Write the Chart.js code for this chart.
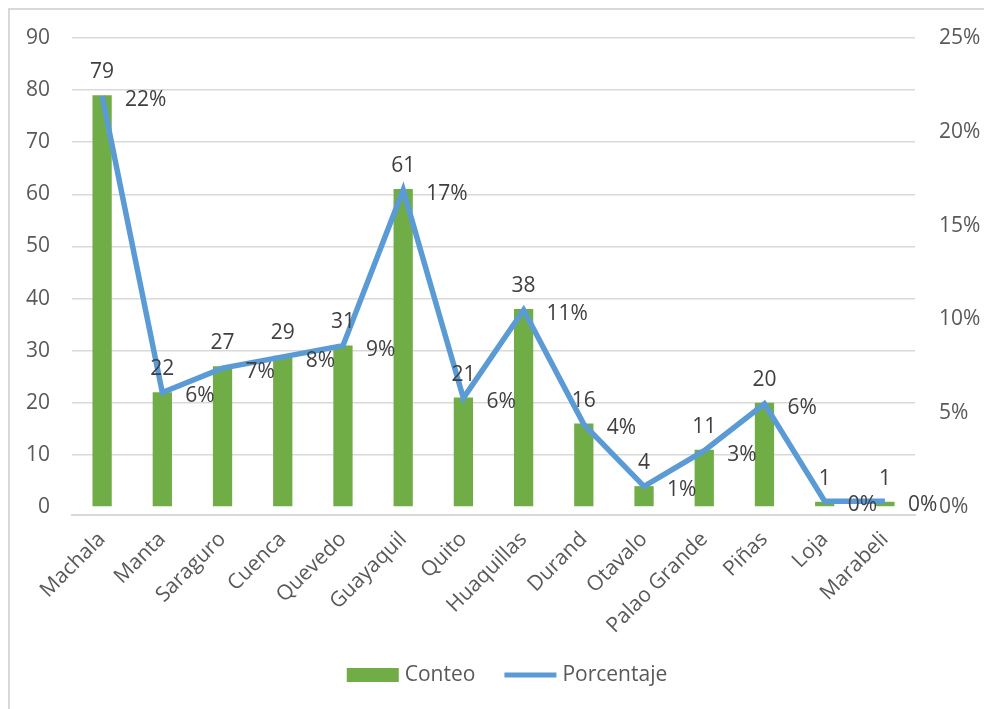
<!DOCTYPE html>
<html>
<head>
<meta charset="utf-8">
<script src="https://cdn.jsdelivr.net/npm/chart.js@4"></script>
<style>
  html, body { margin: 0; padding: 0; background: #fff; }
  #wrap { position: absolute; left: 0; top: 0; width: 984px; height: 709px; }
</style>
</head>
<body>
<div id="wrap"><canvas id="grafico"></canvas></div>
<script>
// Datos
const ciudades = ['Machala', 'Manta', 'Saraguro', 'Cuenca', 'Quevedo', 'Guayaquil', 'Quito',
    'Huaquillas', 'Durand', 'Otavalo', 'Palao Grande', 'Piñas', 'Loja', 'Marabeli'];
const conteo = [79, 22, 27, 29, 31, 61, 21, 38, 16, 4, 11, 20, 1, 1];
const porcentaje = [21.9, 6.1, 7.4, 8.0, 8.6, 16.9, 5.8, 10.5, 4.4, 1.1, 3.0, 5.5, 0.3, 0.3];
const ticksConteo = [0, 10, 20, 30, 40, 50, 60, 70, 80, 90];
const ticksPorcentaje = [0, 5, 10, 15, 20, 25];

const fuente = '"Open Sans", "DejaVu Sans", sans-serif';
const tamFuente = 21;
const verde = '#70AD47';
const azul = '#5B9BD5';

// Marco gris del gráfico (solo se ven borde superior e izquierdo)
const marco = {
    id: 'marco',
    beforeDraw(chart) {
        const ctx = chart.ctx;
        ctx.save();
        ctx.fillStyle = '#ffffff';
        ctx.fillRect(0, 0, chart.width, chart.height);
        ctx.strokeStyle = '#d9d9d9';
        ctx.lineWidth = 2;
        ctx.strokeRect(9, 9, chart.width + 20, chart.height + 20);
        ctx.restore();
    }
};

// Etiquetas de datos: conteo sobre las barras, porcentaje a la derecha de la línea
const etiquetas = {
    id: 'etiquetas',
    afterDatasetsDraw(chart) {
        const ctx = chart.ctx;
        ctx.save();
        ctx.font = tamFuente + 'px ' + fuente;
        ctx.fillStyle = '#404040';
        ctx.textBaseline = 'middle';

        const barras = chart.getDatasetMeta(0);
        ctx.textAlign = 'center';
        barras.data.forEach((bar, i) => {
            ctx.fillText(String(conteo[i]), bar.x, bar.y - 23);
        });

        const linea = chart.getDatasetMeta(1);
        ctx.textAlign = 'left';
        linea.data.forEach((pt, i) => {
            ctx.fillText(Math.round(porcentaje[i]) + '%', pt.x + 23, pt.y + 4);
        });
        ctx.restore();
    }
};

// Leyenda propia debajo del gráfico
const leyenda = {
    id: 'leyenda',
    afterDraw(chart) {
        const ctx = chart.ctx;
        ctx.save();
        ctx.font = tamFuente + 'px ' + fuente;
        ctx.textBaseline = 'middle';
        ctx.textAlign = 'left';
        const muestra = 52, hueco = 6, separacion = 29;
        const items = chart.data.datasets.map(ds => ({
            texto: ds.label,
            tipo: ds.type,
            color: ds.type === 'line' ? ds.borderColor : ds.backgroundColor,
            ancho: muestra + hueco + ctx.measureText(ds.label).width
        }));
        const total = items.reduce((s, it) => s + it.ancho, 0) + separacion * (items.length - 1);
        let x = (chart.width - total) / 2 + 15;
        const y = 675;
        items.forEach(it => {
            if (it.tipo === 'line') {
                ctx.strokeStyle = it.color;
                ctx.lineWidth = 5;
                ctx.beginPath();
                ctx.moveTo(x, y);
                ctx.lineTo(x + muestra, y);
                ctx.stroke();
            } else {
                ctx.fillStyle = it.color;
                ctx.fillRect(x, y - 7, muestra, 14);
            }
            ctx.fillStyle = '#595959';
            ctx.fillText(it.texto, x + muestra + hueco, y);
            x += it.ancho + separacion;
        });
        ctx.restore();
    }
};

const ctx = document.getElementById('grafico').getContext('2d');
const grafico = new Chart(ctx, {
    type: 'bar',
    data: {
        labels: ciudades,
        datasets: [{
            type: 'bar',
            label: 'Conteo',
            data: conteo,
            backgroundColor: verde,
            borderWidth: 0,
            barPercentage: 0.32,
            categoryPercentage: 1,
            yAxisID: 'y',
            order: 1
        }, {
            type: 'line',
            label: 'Porcentaje',
            data: porcentaje,
            borderColor: azul,
            backgroundColor: azul,
            borderWidth: 5.5,
            pointRadius: 0,
            pointHoverRadius: 0,
            tension: 0,
            fill: false,
            yAxisID: 'y2',
            order: 0
        }]
    },
    options: {
        responsive: true,
        maintainAspectRatio: false,
        animation: false,
        devicePixelRatio: 1,
        layout: { padding: { top: 38, left: 0, right: 0, bottom: 72 } },
        plugins: {
            tooltip: { enabled: false },
            legend: { display: false }
        },
        scales: {
            x: {
                grid: { display: false, drawTicks: false },
                border: { display: true, color: '#d9d9d9', width: 2 },
                ticks: {
                    color: '#595959',
                    font: { family: fuente, size: tamFuente },
                    minRotation: 45,
                    maxRotation: 45,
                    padding: 12,
                    autoSkip: false
                },
                afterFit(scale) { scale.height = 122; }
            },
            y: {
                position: 'left',
                min: -1.54,
                max: 90,
                afterBuildTicks(scale) {
                    scale.ticks = ticksConteo.map(v => ({ value: v }));
                },
                grid: {
                    drawTicks: false,
                    color: c => (c.tick && c.tick.value === 0) ? 'rgba(0,0,0,0)' : '#d9d9d9',
                    lineWidth: 1.5
                },
                border: { display: false },
                ticks: {
                    color: '#595959',
                    font: { family: fuente, size: tamFuente },
                    padding: 22
                },
                afterFit(scale) { scale.width = 72; }
            },
            y2: {
                position: 'right',
                min: -0.43,
                max: 25,
                afterBuildTicks(scale) {
                    scale.ticks = ticksPorcentaje.map(v => ({ value: v }));
                },
                grid: { display: false, drawTicks: false },
                border: { display: false },
                ticks: {
                    color: '#595959',
                    font: { family: fuente, size: tamFuente },
                    padding: 24,
                    callback: v => v + '%'
                },
                afterFit(scale) { scale.width = 69; }
            }
        }
    },
    plugins: [marco, etiquetas, leyenda]
});
</script>
</body>
</html>
